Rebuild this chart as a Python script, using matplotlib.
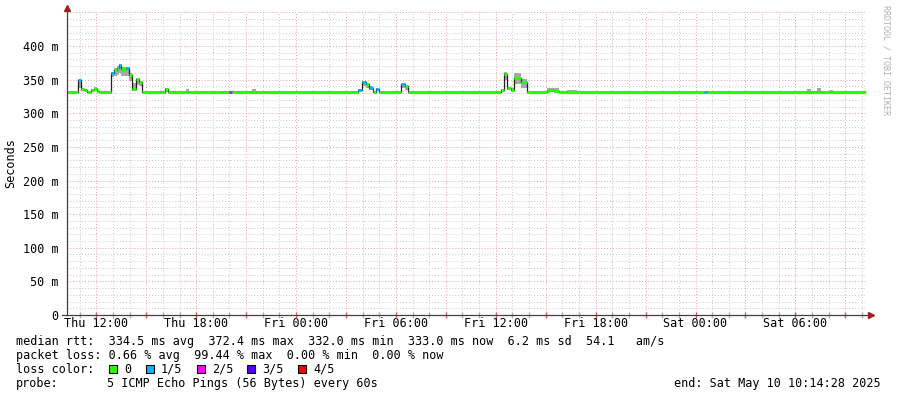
import datetime as dt
import matplotlib
matplotlib.use("Agg")
import matplotlib.pyplot as plt
from matplotlib.patches import Rectangle

# time window (hours since start), start = Thu May 8 10:14:28 2025
start = dt.datetime(2025, 5, 8, 10, 14, 28)
span_h = 48.0

# median rtt step series: segment start (h), median (ms), loss level, smoke low/high (ms)
seg_hours = [0.00, 0.66, 0.84, 1.02, 1.20, 1.44, 1.62, 1.80, 1.92, 2.64, 2.82, 3.00, 3.12,
             3.24, 3.54, 3.72, 3.90, 4.14, 4.32, 4.50, 5.88, 6.06, 7.14, 7.32, 7.92, 8.10,
             9.12, 9.30, 9.72, 9.90, 11.10, 11.34, 11.94, 12.12, 17.46, 17.70, 17.94, 18.12,
             18.36, 18.54, 18.72, 18.90, 20.04, 20.28, 20.46, 26.10, 26.28, 26.46, 26.70,
             26.88, 27.30, 27.66, 28.86, 28.98, 29.28, 29.58, 30.06, 30.66, 38.28, 38.46,
             44.46, 44.70, 45.06, 45.30, 45.84, 46.02]
seg_median = [332, 350, 336, 334, 332, 335, 336, 333, 332, 360, 365, 367, 372,
              366, 367, 357, 336, 351, 346, 332, 336, 332, 332, 332, 331, 332,
              331, 332, 332, 332, 332, 332, 331, 332, 335, 347, 343, 338,
              332, 336, 331, 332, 343, 340, 332, 335, 358, 337, 335,
              352, 347, 332, 333, 335, 333, 332, 332, 332, 332, 332,
              332, 332, 332, 332, 332, 332]
seg_loss = [0, 1, 0, 0, 0, 0, 0, 0, 0, 1, 0, 0, 1,
            0, 1, 0, 0, 0, 0, 0, 0, 0, 0, 0, 0, 0,
            0, 0, 2, 0, 0, 0, 0, 0, 1, 1, 0, 1,
            0, 1, 0, 0, 1, 0, 0, 0, 0, 0, 0,
            0, 0, 0, 0, 0, 0, 0, 0, 0, 1, 0,
            0, 0, 0, 0, 0, 0]
seg_lo = [331, 338, 334, 333, 331, 333, 334, 332, 331, 354, 356, 357, 360,
          356, 355, 348, 333, 342, 340, 331, 332, 331, 331, 331, 330, 331,
          330, 331, 331, 331, 331, 331, 330, 331, 333, 340, 338, 334,
          331, 333, 330, 331, 338, 335, 331, 333, 350, 334, 333,
          343, 338, 331, 332, 332, 332, 331, 331, 331, 331, 331,
          331, 331, 331, 331, 331, 331]
seg_hi = [333, 351, 338, 335, 333, 336, 339, 334, 333, 361, 367, 370, 373,
          369, 369, 360, 345, 353, 348, 333, 337, 333, 336, 333, 332, 333,
          332, 333, 333, 333, 336, 333, 332, 333, 336, 348, 345, 340,
          333, 337, 332, 333, 344, 342, 333, 336, 361, 339, 337,
          360, 351, 333, 337, 338, 338, 333, 334, 333, 333, 333,
          336, 333, 338, 333, 334, 333]

loss_colors = ["#26ff00", "#00b8ff", "#ff00fe", "#5500ff", "#ff0000"]
loss_labels = ["0", "1/5", "2/5", "3/5", "4/5"]

stats_rtt = "median rtt:  334.5 ms avg  372.4 ms max  332.0 ms min  333.0 ms now  6.2 ms sd  54.1   am/s"
stats_loss = "packet loss: 0.66 % avg  99.44 % max  0.00 % min  0.00 % now"
probe_txt = "5 ICMP Echo Pings (56 Bytes) every 60s"
end_txt = "end: Sat May 10 10:14:28 2025"

W, H = 897, 397
mono = "DejaVu Sans Mono"
fs = 8.5

fig = plt.figure(figsize=(W / 100, H / 100), dpi=100)
fig.patch.set_facecolor("white")
ax = fig.add_axes([67 / W, 1 - 315 / H, (866 - 67) / W, (315 - 12) / H])
ymax = (315 - 12) / 0.6725
ax.set_xlim(0, span_h)
ax.set_ylim(0, ymax)
for s in ax.spines.values():
    s.set_visible(False)

# grid
for h in range(0, 49):
    t = h - (start.minute * 60 + start.second) / 3600.0
    if t <= 0 or t >= span_h:
        continue
    hour = (start + dt.timedelta(hours=t)).hour
    major = hour % 3 == 0
    ax.axvline(t, color="#e0a0a0" if major else "#c8c8c8", lw=0.7,
               ls=(0, (1, 2)), zorder=0)
    ax.plot([t], [0], marker="|", ms=4, color="#d06060" if major else "#b0b0b0",
            clip_on=False, zorder=5)
for v in range(10, 451, 10):
    major = v % 50 == 0
    ax.axhline(v, color="#e0a0a0" if major else "#c8c8c8", lw=0.7,
               ls=(0, (1, 2)), zorder=0)

# smoke + median
ends = seg_hours[1:] + [span_h]
for i in range(len(seg_hours)):
    ax.fill_between([seg_hours[i], ends[i]], seg_lo[i], seg_hi[i],
                    color="#a8a8a8", lw=0, zorder=1)
ax.step(seg_hours + [span_h], seg_median + [seg_median[-1]], where="post",
        color="#202020", lw=0.9, zorder=2)
for i in range(len(seg_hours)):
    ax.plot([seg_hours[i], ends[i]], [seg_median[i]] * 2,
            color=loss_colors[seg_loss[i]], lw=2.2, solid_capstyle="butt", zorder=3)

# axes lines and arrows
ax.plot([-0.006, 1.004], [0, 0], transform=ax.transAxes, color="#404040",
        lw=0.9, clip_on=False, zorder=6)
ax.plot([0, 0], [0, 1.005], transform=ax.transAxes, color="#404040",
        lw=0.9, clip_on=False, zorder=6)
ax.plot([1.006], [0], transform=ax.transAxes, marker=">", ms=4, color="#a02020",
        clip_on=False, zorder=7)
ax.plot([0], [1.012], transform=ax.transAxes, marker="^", ms=4, color="#a02020",
        clip_on=False, zorder=7)

# ticks
yt = list(range(0, 401, 50))
ax.set_yticks(yt)
ax.set_yticklabels([f"{v} m" if v else "0" for v in yt], family=mono, fontsize=fs)
first = start.replace(hour=12, minute=0, second=0)
xt, xl = [], []
t = first
while t <= start + dt.timedelta(hours=span_h):
    xt.append((t - start).total_seconds() / 3600.0)
    xl.append(t.strftime("%a %H:%M"))
    t += dt.timedelta(hours=6)
ax.set_xticks(xt)
ax.set_xticklabels(xl, family=mono, fontsize=fs)
ax.tick_params(length=0)
ax.tick_params(axis="x", pad=1.5)
ax.tick_params(axis="y", pad=6)

fig.text(11 / W, 1 - 163 / H, "Seconds", rotation=90, family=mono, fontsize=fs,
         ha="center", va="center")
fig.text(886 / W, 1 - 60 / H, "RRDTOOL / TOBI OETIKER", rotation=270, family=mono,
         fontsize=6, color="#b0b0b0", ha="center", va="center")

# legend rows
rows_y = [341.5, 355.5, 369.5, 383.5]
fig.text(16 / W, 1 - rows_y[0] / H, stats_rtt, family=mono, fontsize=fs, va="center")
fig.text(16 / W, 1 - rows_y[1] / H, stats_loss, family=mono, fontsize=fs, va="center")
fig.text(16 / W, 1 - rows_y[2] / H, "loss color:", family=mono, fontsize=fs, va="center")
box_x = [109, 146, 197, 247, 298]
for bx, c, lab in zip(box_x, loss_colors, loss_labels):
    fig.patches.append(Rectangle((bx / W, 1 - 373 / H), 8 / W, 8 / H,
                                 transform=fig.transFigure, fc=c, ec="black", lw=0.8))
    fig.text((bx + 15) / W, 1 - rows_y[2] / H, lab, family=mono, fontsize=fs, va="center")
fig.text(16 / W, 1 - rows_y[3] / H, "probe:", family=mono, fontsize=fs, va="center")
fig.text(107 / W, 1 - rows_y[3] / H, probe_txt, family=mono, fontsize=fs, va="center")
fig.text(881 / W, 1 - rows_y[3] / H, end_txt, family=mono, fontsize=fs, va="center",
         ha="right")

fig.savefig("out.png", dpi=100)
